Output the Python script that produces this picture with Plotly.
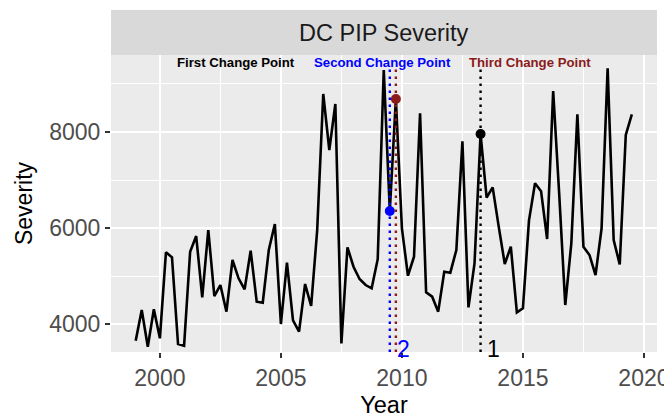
import plotly.graph_objects as go

start_year = 1999.0
severity = [3652, 4292, 3528, 4306, 3702, 5494, 5390, 3583, 3548, 5507,
            5833, 4556, 5958, 4583, 4812, 4257, 5333, 4952, 4722, 5528,
            4465, 4444, 5542, 6083, 4000, 5278, 4075, 3840, 4833, 4375,
            5958, 8792, 7625, 8583, 3597, 5597, 5194, 4937, 4812, 4743,
            5350, 9292, 6354, 8688, 5993, 5006, 5402, 8389, 4660, 4569,
            4257, 5090, 5069, 5542, 7805, 4347, 5264, 7958, 6632, 6847,
            6028, 5250, 5611, 4243, 4326, 6153, 6931, 6767, 5771, 8854,
            6700, 4396, 5681, 8368, 5611, 5438, 5021, 5993, 9326, 5750,
            5243, 7938, 8368]
years = [start_year + i / 4 for i in range(len(severity))]

cp_names = ["First Change Point", "Second Change Point", "Third Change Point"]
cp_years = [2013.25, 2009.5, 2009.75]
cp_values = [7958, 6354, 8688]
cp_colors = ["#000000", "#0000FF", "#8B1A1A"]
cp_name_x = [2003.15, 2009.2, 2015.3]
cp_num_labels = ["1", "2", ""]

x_ticks = [2000, 2005, 2010, 2015, 2020]
y_ticks = [4000, 6000, 8000]

Y_MIN, Y_MAX = 3417, 9604
FONT = "Liberation Sans, Arial, sans-serif"

fig = go.Figure()
fig.add_trace(go.Scatter(x=years, y=severity, mode="lines",
                         line=dict(color="black", width=2.6), showlegend=False,
                         hoverinfo="skip"))
for yr, col in zip(cp_years, cp_colors):
    fig.add_shape(type="line", x0=yr, x1=yr, y0=Y_MIN, y1=max(severity), xref="x", yref="y",
                  line=dict(color=col, width=2.4, dash="2.5px,4.5px"), layer="above")
fig.add_trace(go.Scatter(x=cp_years, y=cp_values, mode="markers",
                         marker=dict(color=cp_colors, size=10), showlegend=False,
                         hoverinfo="skip"))
for name, nx, col in zip(cp_names, cp_name_x, cp_colors):
    fig.add_annotation(x=nx, y=9458, text="<b>" + name + "</b>", showarrow=False,
                       font=dict(family=FONT, size=13.2, color=col),
                       xanchor="center", yanchor="middle")
for lab, yr, col in zip(cp_num_labels, cp_years, cp_colors):
    if lab:
        fig.add_annotation(x=yr + 0.2, y=3480, text=lab, showarrow=False,
                           font=dict(family=FONT, size=23, color=col),
                           xanchor="left", yanchor="middle")

# facet strip
fig.add_shape(type="rect", xref="paper", yref="paper", x0=0, x1=1, y0=1, y1=1 + 45 / 297,
              fillcolor="#D9D9D9", line=dict(width=0), layer="below")
fig.add_annotation(xref="paper", yref="paper", x=0.5, y=1 + 22.5 / 297, text="DC PIP Severity",
                   showarrow=False, font=dict(family=FONT, size=23.5, color="#1A1A1A"),
                   xanchor="center", yanchor="middle")

axis_font = dict(family=FONT, size=23, color="#4D4D4D")
fig.update_layout(
    width=672, height=420,
    margin=dict(l=103, r=23, t=47, b=76),
    paper_bgcolor="white", plot_bgcolor="#EBEBEB",
    xaxis=dict(range=[1997.98, 2020.54], tickvals=x_ticks, ticktext=[str(v) for v in x_ticks],
               showgrid=True, gridcolor="white", gridwidth=2, zeroline=False, automargin=False,
               ticks="outside", ticklen=5, tickwidth=2, tickcolor="#333333",
               tickfont=axis_font,
               minor=dict(tickvals=[1997.5, 2002.5, 2007.5, 2012.5, 2017.5], showgrid=True,
                          gridcolor="white", gridwidth=1, ticks=""),
               title=dict(text="Year", font=dict(family=FONT, size=23.5, color="black"),
                          standoff=6)),
    yaxis=dict(range=[Y_MIN, Y_MAX], tickvals=y_ticks, ticktext=[str(v) for v in y_ticks],
               showgrid=True, gridcolor="white", gridwidth=2, zeroline=False, automargin=False,
               ticks="outside", ticklen=5, tickwidth=2, tickcolor="#333333",
               tickfont=axis_font,
               minor=dict(tickvals=[3000, 5000, 7000, 9000], showgrid=True,
                          gridcolor="white", gridwidth=1, ticks=""),
               title=dict(text="Severity", font=dict(family=FONT, size=23, color="black"),
                          standoff=10)),
)
fig.write_html("out.html")
